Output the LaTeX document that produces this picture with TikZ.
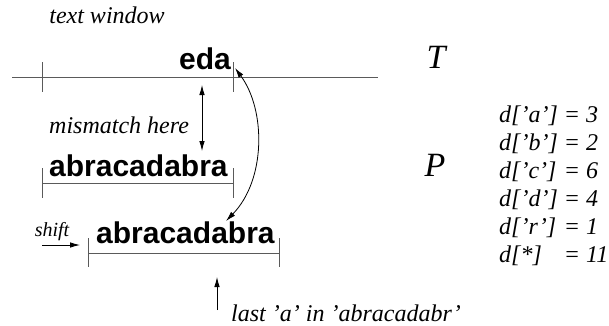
\documentclass[tikz,border=0pt]{standalone}
\usepackage{xcolor}
\usepackage{tikz}
\usetikzlibrary{arrows.meta}
\usepackage{fontspec}
\setmainfont{Liberation Serif}
\setsansfont{Liberation Sans}
\definecolor{rulegray}{RGB}{90,90,90}

\tikzset{
    lbl/.style={font=\fontsize{24}{28}\selectfont\itshape,inner sep=0pt},
    str/.style={font=\fontsize{30}{32}\selectfont\sffamily\bfseries,inner sep=0pt},
    big/.style={font=\fontsize{34}{36}\selectfont\itshape,inner sep=0pt},
    rule/.style={draw=rulegray,line width=0.9pt},
    ptr/.style={-{Latex[length=10pt,width=5.5pt]},line width=0.8pt},
    dptr/.style={{Latex[length=10pt,width=5.5pt]}-{Latex[length=10pt,width=5.5pt]},line width=0.8pt}
}

\begin{document}
\begin{tikzpicture}[x=1pt,y=-1pt]
    \useasboundingbox (0,0) rectangle (609,325);

    % text and window
    \node[lbl] (window) at (107,15) {text window};
    \draw[rule] (12,77) -- (378,77);
    \draw[rule] (42,62) -- (42,92);
    \draw[rule] (233,62) -- (233,92);
    \node[str,anchor=base west] (eda) at (179,69) {eda};
    \node[big] (T) at (436,57) {T};

    % pattern, first alignment
    \node[lbl,anchor=west] (mismatch) at (49,125) {mismatch here};
    \node[str,anchor=base west] (pat1) at (49,176) {abracadabra};
    \draw[rule] (42,183) -- (233,183);
    \draw[rule] (42,168) -- (42,198);
    \draw[rule] (233,168) -- (233,198);
    \node[big] (P) at (435,165) {P};

    % pattern, after the shift
    \node[str,anchor=base west] (pat2) at (96,243) {abracadabra};
    \draw[rule] (88,253) -- (279,253);
    \draw[rule] (88,238) -- (88,267);
    \draw[rule] (279,238) -- (279,267);
    \node[font=\fontsize{20}{22}\selectfont\itshape,inner sep=0pt] (shiftlbl) at (52,232) {shift};
    \node[lbl,anchor=west] (lastlbl) at (231,313) {last 'a' in 'abracadabr'};

    % shift table
    \node[lbl,anchor=north west] (dtab) at (499,103) {%
        \begin{tabular}{@{}l@{\ }l@{}}
            d['a'] & = 3\\
            d['b'] & = 2\\
            d['c'] & = 6\\
            d['d'] & = 4\\
            d['r'] & = 1\\
            d[*]   & = 11
        \end{tabular}};

    % arrows
    \coordinate (mtop) at (202,85);
    \coordinate (mbot) at (202,151);
    \coordinate (edaend) at (235,68);
    \coordinate (pat2end) at (226,221);
    \coordinate (sfrom) at (42,245);
    \coordinate (sto) at (80,245);
    \coordinate (lfrom) at (217,310);
    \coordinate (lto) at (217,277);
    \draw[dptr] (mtop) -- (mbot);
    \draw[dptr] (edaend) .. controls (266,110) and (266,180) .. (pat2end);
    \draw[ptr] (sfrom) -- (sto);
    \draw[ptr] (lfrom) -- (lto);
\end{tikzpicture}
\end{document}
